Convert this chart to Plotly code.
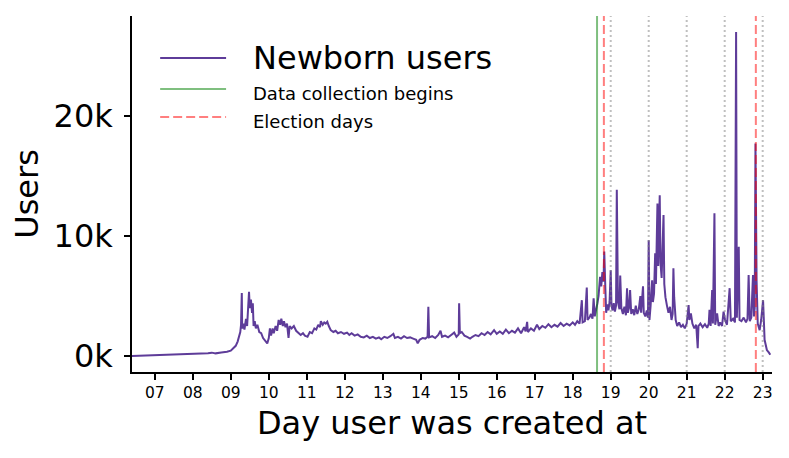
import plotly.graph_objects as go

# day the account was created (decimal year) and number of newborn users
year_frac = [
    2006.40, 2006.60, 2006.80, 2007.00, 2007.20, 2007.35, 2007.50, 2007.80, 2008.00, 2008.20,
    2008.40, 2008.50, 2008.60, 2008.75, 2008.90, 2009.00, 2009.08, 2009.13, 2009.18, 2009.22,
    2009.25, 2009.27, 2009.29, 2009.30, 2009.33, 2009.36, 2009.40, 2009.43, 2009.46, 2009.48,
    2009.50, 2009.53, 2009.56, 2009.58, 2009.60, 2009.63, 2009.66, 2009.70, 2009.75, 2009.80,
    2009.85, 2009.90, 2009.96, 2010.00, 2010.03, 2010.06, 2010.10, 2010.13, 2010.18, 2010.22,
    2010.26, 2010.30, 2010.33, 2010.37, 2010.40, 2010.44, 2010.48, 2010.52, 2010.55, 2010.60,
    2010.66, 2010.72, 2010.78, 2010.84, 2010.90, 2010.95, 2011.02, 2011.08, 2011.14, 2011.20,
    2011.25, 2011.30, 2011.35, 2011.37, 2011.42, 2011.46, 2011.50, 2011.54, 2011.58, 2011.63,
    2011.70, 2011.76, 2011.82, 2011.90, 2011.98, 2012.06, 2012.12, 2012.18, 2012.26, 2012.34,
    2012.42, 2012.50, 2012.58, 2012.66, 2012.74, 2012.82, 2012.90, 2012.96, 2013.04, 2013.12,
    2013.20, 2013.28, 2013.32, 2013.40, 2013.48, 2013.56, 2013.64, 2013.72, 2013.80, 2013.88,
    2013.92, 2013.97, 2014.05, 2014.12, 2014.18, 2014.20, 2014.22, 2014.30, 2014.38, 2014.46,
    2014.52, 2014.56, 2014.64, 2014.72, 2014.80, 2014.88, 2014.94, 2015.00, 2015.01, 2015.03,
    2015.08, 2015.15, 2015.22, 2015.30, 2015.36, 2015.44, 2015.52, 2015.60, 2015.68, 2015.76,
    2015.84, 2015.93, 2016.00, 2016.08, 2016.16, 2016.24, 2016.32, 2016.40, 2016.48, 2016.56,
    2016.64, 2016.72, 2016.76, 2016.80, 2016.82, 2016.90, 2016.98, 2017.06, 2017.12, 2017.20,
    2017.28, 2017.36, 2017.44, 2017.52, 2017.60, 2017.68, 2017.76, 2017.84, 2017.92, 2018.00,
    2018.06, 2018.12, 2018.18, 2018.24, 2018.26, 2018.32, 2018.37, 2018.39, 2018.44, 2018.48,
    2018.52, 2018.55, 2018.58, 2018.62, 2018.65, 2018.68, 2018.72, 2018.75, 2018.78, 2018.81,
    2018.83, 2018.86, 2018.88, 2018.91, 2018.94, 2018.97, 2019.00, 2019.02, 2019.05, 2019.08,
    2019.11, 2019.14, 2019.16, 2019.19, 2019.23, 2019.25, 2019.28, 2019.32, 2019.36, 2019.40,
    2019.43, 2019.45, 2019.48, 2019.51, 2019.54, 2019.58, 2019.62, 2019.66, 2019.70, 2019.74,
    2019.78, 2019.80, 2019.85, 2019.87, 2019.91, 2019.95, 2019.98, 2020.00, 2020.02, 2020.05,
    2020.09, 2020.11, 2020.14, 2020.17, 2020.19, 2020.23, 2020.25, 2020.29, 2020.31, 2020.34,
    2020.39, 2020.41, 2020.44, 2020.48, 2020.52, 2020.56, 2020.60, 2020.63, 2020.65, 2020.67,
    2020.71, 2020.75, 2020.80, 2020.85, 2020.90, 2020.95, 2021.00, 2021.05, 2021.07, 2021.11,
    2021.15, 2021.20, 2021.25, 2021.29, 2021.31, 2021.36, 2021.42, 2021.48, 2021.54, 2021.58,
    2021.60, 2021.63, 2021.67, 2021.69, 2021.73, 2021.75, 2021.80, 2021.84, 2021.88, 2021.93,
    2021.97, 2022.01, 2022.06, 2022.13, 2022.16, 2022.22, 2022.27, 2022.30, 2022.32, 2022.37,
    2022.39, 2022.44, 2022.50, 2022.56, 2022.60, 2022.63, 2022.66, 2022.70, 2022.745, 2022.77,
    2022.79, 2022.81, 2022.84, 2022.87, 2022.92, 2022.96, 2023.01, 2023.05, 2023.11, 2023.16,
    2023.20,
]
users = [
    0, 20, 30, 50, 80, 120, 90, 110, 150, 180,
    230, 280, 220, 300, 350, 450, 650, 850, 1200, 1600,
    2000, 2600, 5250, 2300, 2700, 2200, 3100, 2500, 4300, 5350,
    4000, 4700, 3600, 4400, 2500, 2900, 2300, 2600, 2000, 1900,
    1500, 1300, 1050, 1500, 2300, 1700, 2300, 1900, 2500, 2100,
    3000, 2600, 3100, 2500, 2900, 2400, 2700, 1500, 2500, 2300,
    2500, 2100, 1900, 1750, 1900, 1700, 1600, 2000, 1900, 2300,
    2200, 2600, 2400, 2900, 2600, 2800, 2700, 2850, 2500, 2150,
    2000, 2100, 1900, 2000, 1850, 1950, 1750, 1900, 1700, 1800,
    1600, 1550, 1700, 1500, 1600, 1450, 1550, 1400, 1600, 1500,
    1650, 1850, 1500, 1600, 1450, 1650, 1500, 1550, 1450, 1350,
    1050, 1350, 1500, 1450, 1600, 4100, 1550, 1650, 1500, 1750,
    2100, 1600, 1700, 1550, 1750, 1950, 1600, 1800, 4400, 1900,
    2000, 1700, 1600, 1450, 1600, 1750, 1650, 1900, 1750, 2000,
    1800, 2150, 1850, 2050, 1850, 2200, 1900, 2100, 1950, 2300,
    1900, 2400, 2050, 2850, 2000, 2300, 2100, 2600, 2250, 2500,
    2350, 2650, 2400, 2600, 2450, 2750, 2500, 2700, 2550, 2800,
    2600, 2900, 2700, 4650, 2800, 2900, 5700, 3000, 3200, 3500,
    3100, 4800, 3300, 3800, 4400, 5000, 6600, 5800, 7000, 6200,
    8700, 5500, 3600, 4300, 3800, 4500, 7150, 4200, 3800, 4400,
    3700, 4200, 13850, 4500, 3900, 6700, 4000, 3500, 4100, 3400,
    5650, 3600, 4000, 5500, 3500, 3900, 3400, 4200, 3500, 3900,
    5000, 3600, 5800, 3600, 3300, 3800, 3200, 9650, 3000, 4200,
    6300, 4500, 5200, 8550, 6000, 12700, 7500, 13400, 7750, 6500,
    11750, 6000, 4900, 4200, 3600, 4100, 3000, 3500, 7300, 4900,
    3000, 2500, 2800, 2400, 2600, 2300, 2700, 4250, 3000, 3550,
    2700, 2300, 2600, 650, 2500, 2700, 2400, 2650, 2350, 2700,
    3850, 2500, 5500, 2700, 11900, 2600, 3550, 2500, 2800, 2500,
    3700, 3000, 2600, 5650, 2900, 3100, 2800, 27000, 3200, 9100,
    3000, 2900, 3200, 2800, 3100, 6750, 2900, 3200, 6750, 3300,
    4000, 17700, 6200, 2700, 2150, 3000, 4650, 1350, 500, 300,
    100,
]

collection_start = 2018.64
election_days = [2018.82, 2022.82]
new_years = [2019, 2020, 2021, 2022, 2023]
year_ticks = list(range(2007, 2024))
year_labels = ['%02d' % (y % 100) for y in year_ticks]
user_ticks = [0, 10000, 20000]
user_labels = ['0k', '10k', '20k']

purple = '#5e3c99'
green = 'rgba(0,128,0,0.5)'
red = 'rgba(255,0,0,0.5)'
gray = 'rgba(128,128,128,0.5)'

fig = go.Figure()
fig.add_trace(go.Scatter(x=year_frac, y=users, mode='lines',
                         line=dict(color=purple, width=2),
                         name='Newborn users', showlegend=False))

for y in new_years:
    fig.add_vline(x=y, line=dict(color=gray, width=2, dash='2px,3px'))
fig.add_vline(x=collection_start, line=dict(color=green, width=2))
for d in election_days:
    fig.add_vline(x=d, line=dict(color=red, width=2, dash='9px,4px'))

# hand-made legend (matplotlib style, bigger first entry)
legend_items = [('Newborn users', purple, 'solid', 32, 0.882, 0.883),
                ('Data collection begins', green, 'solid', 18, 0.795, 0.781),
                ('Election days', red, '9px,4px', 18, 0.716, 0.703)]
for label, col, dash, size, ly, ty in legend_items:
    fig.add_shape(type='line', xref='paper', yref='paper', x0=0.044, x1=0.147,
                  y0=ly, y1=ly, line=dict(color=col, width=2, dash=dash))
    fig.add_annotation(xref='paper', yref='paper', x=0.186, y=ty, text=label,
                       showarrow=False, xanchor='left', yanchor='middle',
                       font=dict(size=size, color='black'))

# page body has an 8px margin, so the figure is 8px smaller than the window
fig.update_layout(
    width=781, height=450,
    margin=dict(l=124, r=17, t=8, b=86),
    plot_bgcolor='white', paper_bgcolor='white',
    font=dict(family='DejaVu Sans', color='black'),
    showlegend=False,
)
fig.update_xaxes(range=[2006.40, 2023.245], tickvals=year_ticks, ticktext=year_labels,
                 showline=True, linecolor='black', linewidth=1.5, mirror=False,
                 ticks='outside', ticklen=6, tickwidth=1.5, tickcolor='black',
                 tickfont=dict(size=15.5), showgrid=False, zeroline=False,
                 title=dict(text='Day user was created at', font=dict(size=32), standoff=10))
fig.update_yaxes(range=[-1333, 28330], tickvals=user_ticks, ticktext=user_labels,
                 showline=True, linecolor='black', linewidth=1.5,
                 ticks='outside', ticklen=6, tickwidth=1.5, tickcolor='black',
                 tickfont=dict(size=32), ticklabelstandoff=5, showgrid=False, zeroline=False,
                 title=dict(text='Users', font=dict(size=32), standoff=10))

fig.write_html("out.html")
